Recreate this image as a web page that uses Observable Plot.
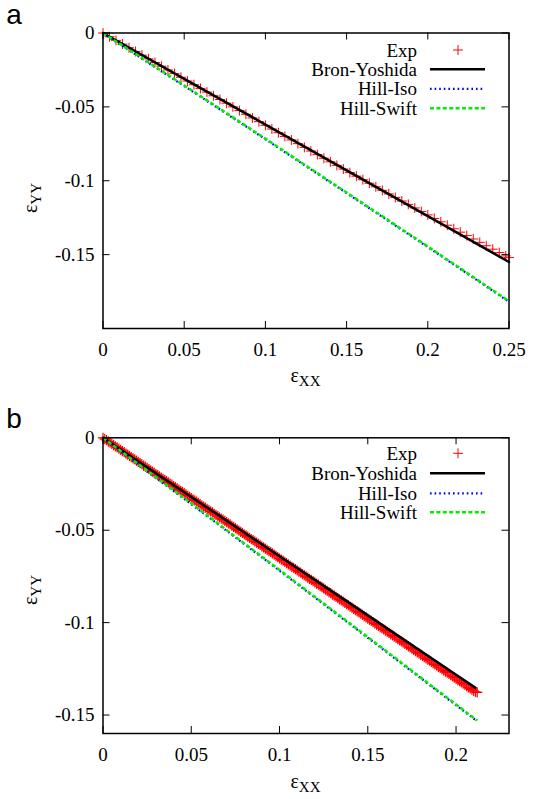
<!DOCTYPE html>
<html><head><meta charset="utf-8">
<script src="https://cdn.jsdelivr.net/npm/d3@7"></script>
<script src="https://cdn.jsdelivr.net/npm/@observablehq/plot@0.6"></script>
<style>body{margin:0;background:#fff} #chart svg{display:block} #chart svg text{font-family:"Liberation Serif","DejaVu Serif",serif}</style>
</head><body><div id="chart"></div>
<script>
// ---------- Panel a data ----------
const aExpX = [0,0.004,0.008,0.012,0.016,0.020,0.024,0.028,0.032,0.036,0.040,0.044,0.048,0.052,0.056,0.060,0.064,0.068,0.072,0.076,0.080,0.084,0.088,0.092,0.096,0.100,0.104,0.108,0.112,0.116,0.120,0.124,0.128,0.132,0.136,0.140,0.144,0.148,0.152,0.156,0.160,0.164,0.168,0.172,0.176,0.180,0.184,0.188,0.192,0.196,0.200,0.204,0.208,0.212,0.216,0.220,0.224,0.228,0.232,0.236,0.240,0.244,0.248,0.250];
const aExpY = [0,-0.0025,-0.0050,-0.0075,-0.0100,-0.0125,-0.0150,-0.0175,-0.0200,-0.0225,-0.0250,-0.0275,-0.0300,-0.0325,-0.0350,-0.0375,-0.0400,-0.0425,-0.0450,-0.0475,-0.0500,-0.0525,-0.0550,-0.0575,-0.0600,-0.0625,-0.0650,-0.0675,-0.0700,-0.0724,-0.0749,-0.0774,-0.0799,-0.0823,-0.0848,-0.0872,-0.0896,-0.0921,-0.0945,-0.0969,-0.0993,-0.1017,-0.1041,-0.1065,-0.1089,-0.1113,-0.1137,-0.1160,-0.1184,-0.1208,-0.1231,-0.1255,-0.1278,-0.1301,-0.1325,-0.1348,-0.1371,-0.1394,-0.1417,-0.1440,-0.1463,-0.1486,-0.1509,-0.1520];
const aBronX = [0,0.05,0.1,0.15,0.2,0.25];
const aBronY = [0,-0.031,-0.062,-0.093,-0.124,-0.155];
const aIsoX = [0,0.05,0.1,0.15,0.2,0.25];
const aIsoY = [-0.0003,-0.0359,-0.0719,-0.1084,-0.1449,-0.1819];
const aSwiftX = [0,0.05,0.1,0.15,0.2,0.25];
const aSwiftY = [0,-0.0355,-0.0715,-0.1080,-0.1445,-0.1815];
const aXTicks = [0,0.05,0.1,0.15,0.2,0.25];
const aYTicks = [0,-0.05,-0.1,-0.15,-0.2];
const aYLabels = ["0","-0.05","-0.1","-0.15",""];

// ---------- Panel b data ----------
const bExpX = [0,0.001,0.002,0.003,0.004,0.005,0.006,0.007,0.008,0.009,0.010,0.011,0.012,0.013,0.014,0.015,0.016,0.017,0.018,0.019,0.020,0.021,0.022,0.023,0.024,0.025,0.026,0.027,0.028,0.029,0.030,0.031,0.032,0.033,0.034,0.035,0.036,0.037,0.038,0.039,0.040,0.041,0.042,0.043,0.044,0.045,0.046,0.047,0.048,0.049,0.050,0.051,0.052,0.053,0.054,0.055,0.056,0.057,0.058,0.059,0.060,0.061,0.062,0.063,0.064,0.065,0.066,0.067,0.068,0.069,0.070,0.071,0.072,0.073,0.074,0.075,0.076,0.077,0.078,0.079,0.080,0.081,0.082,0.083,0.084,0.085,0.086,0.087,0.088,0.089,0.090,0.091,0.092,0.093,0.094,0.095,0.096,0.097,0.098,0.099,0.100,0.101,0.102,0.103,0.104,0.105,0.106,0.107,0.108,0.109,0.110,0.111,0.112,0.113,0.114,0.115,0.116,0.117,0.118,0.119,0.120,0.121,0.122,0.123,0.124,0.125,0.126,0.127,0.128,0.129,0.130,0.131,0.132,0.133,0.134,0.135,0.136,0.137,0.138,0.139,0.140,0.141,0.142,0.143,0.144,0.145,0.146,0.147,0.148,0.149,0.150,0.151,0.152,0.153,0.154,0.155,0.156,0.157,0.158,0.159,0.160,0.161,0.162,0.163,0.164,0.165,0.166,0.167,0.168,0.169,0.170,0.171,0.172,0.173,0.174,0.175,0.176,0.177,0.178,0.179,0.180,0.181,0.182,0.183,0.184,0.185,0.186,0.187,0.188,0.189,0.190,0.191,0.192,0.193,0.194,0.195,0.196,0.197,0.198,0.199,0.200,0.201,0.202,0.203,0.204,0.205,0.206,0.207,0.208,0.209,0.210,0.211,0.212];
const bExpY = [0,-0.0007,-0.0013,-0.0020,-0.0026,-0.0033,-0.0039,-0.0046,-0.0052,-0.0059,-0.0065,-0.0072,-0.0078,-0.0085,-0.0091,-0.0098,-0.0104,-0.0111,-0.0117,-0.0124,-0.0130,-0.0137,-0.0143,-0.0150,-0.0156,-0.0163,-0.0170,-0.0176,-0.0183,-0.0189,-0.0196,-0.0202,-0.0209,-0.0215,-0.0222,-0.0228,-0.0235,-0.0241,-0.0248,-0.0254,-0.0261,-0.0267,-0.0274,-0.0280,-0.0287,-0.0293,-0.0300,-0.0306,-0.0313,-0.0319,-0.0326,-0.0333,-0.0339,-0.0346,-0.0352,-0.0359,-0.0365,-0.0372,-0.0378,-0.0385,-0.0391,-0.0398,-0.0404,-0.0411,-0.0417,-0.0424,-0.0430,-0.0437,-0.0443,-0.0450,-0.0456,-0.0463,-0.0469,-0.0476,-0.0482,-0.0489,-0.0496,-0.0502,-0.0509,-0.0515,-0.0522,-0.0528,-0.0535,-0.0541,-0.0548,-0.0554,-0.0561,-0.0567,-0.0574,-0.0580,-0.0587,-0.0593,-0.0600,-0.0606,-0.0613,-0.0619,-0.0626,-0.0632,-0.0639,-0.0645,-0.0652,-0.0659,-0.0665,-0.0672,-0.0678,-0.0685,-0.0691,-0.0698,-0.0704,-0.0711,-0.0717,-0.0724,-0.0730,-0.0737,-0.0743,-0.0750,-0.0756,-0.0763,-0.0769,-0.0776,-0.0782,-0.0789,-0.0795,-0.0802,-0.0808,-0.0815,-0.0822,-0.0828,-0.0835,-0.0841,-0.0848,-0.0854,-0.0861,-0.0867,-0.0874,-0.0880,-0.0887,-0.0893,-0.0900,-0.0906,-0.0913,-0.0919,-0.0926,-0.0932,-0.0939,-0.0945,-0.0952,-0.0958,-0.0965,-0.0971,-0.0978,-0.0985,-0.0991,-0.0998,-0.1004,-0.1011,-0.1017,-0.1024,-0.1030,-0.1037,-0.1043,-0.1050,-0.1056,-0.1063,-0.1069,-0.1076,-0.1082,-0.1089,-0.1095,-0.1102,-0.1108,-0.1115,-0.1121,-0.1128,-0.1134,-0.1141,-0.1148,-0.1154,-0.1161,-0.1167,-0.1174,-0.1180,-0.1187,-0.1193,-0.1200,-0.1206,-0.1213,-0.1219,-0.1226,-0.1232,-0.1239,-0.1245,-0.1252,-0.1258,-0.1265,-0.1271,-0.1278,-0.1284,-0.1291,-0.1297,-0.1304,-0.1311,-0.1317,-0.1324,-0.1330,-0.1337,-0.1343,-0.1350,-0.1356,-0.1363,-0.1369,-0.1375,-0.1378];
const bBronX = [0,0.05,0.1,0.15,0.2,0.211];
const bBronY = [0,-0.0320,-0.0641,-0.0961,-0.1282,-0.1353];
const bIsoX = [0,0.05,0.1,0.15,0.2,0.212];
const bIsoY = [-0.0003,-0.0359,-0.0719,-0.1082,-0.1447,-0.1534];
const bSwiftX = [0,0.05,0.1,0.15,0.2,0.212];
const bSwiftY = [0,-0.0355,-0.0715,-0.1078,-0.1443,-0.1530];
const bXTicks = [0,0.05,0.1,0.15,0.2];
const bYTicks = [0,-0.05,-0.1,-0.15];
const bYLabels = ["0","-0.05","-0.1","-0.15"];

const seriesNames = ["Exp","Bron-Yoshida","Hill-Iso","Hill-Swift"];
const seriesColors = ["#ff0000","#000000","#0000ff","#00ee00"];

const sans = "Liberation Sans";

function pts(xs, ys){ return xs.map((x,i)=>({x, y: ys[i]})); }

function panel(o){
  const W = 538, ml = 102.5, mr = 29.5;
  const innerH = o.height - o.mt - o.mb;
  const innerW = W - ml - mr;
  const svg = Plot.plot({
    width: W, height: o.height,
    marginTop: o.mt, marginBottom: o.mb, marginLeft: ml, marginRight: mr,
    x: {domain: o.xDomain, axis: null},
    y: {domain: o.yDomain, axis: null},
    style: {fontSize: "19px", background: "white", color: "black"},
    marks: [
      Plot.dot(pts(o.expX, o.expY), {x:"x", y:"y", symbol:"plus", r:o.mr, stroke: seriesColors[0], strokeWidth:o.msw}),
      Plot.line(pts(o.bronX, o.bronY), {x:"x", y:"y", stroke: seriesColors[1], strokeWidth:2.5}),
      Plot.line(pts(o.isoX, o.isoY), {x:"x", y:"y", stroke: seriesColors[2], strokeWidth:2.2, strokeDasharray:"1.6,3", strokeLinecap:"butt"}),
      Plot.line(pts(o.swiftX, o.swiftY), {x:"x", y:"y", stroke: seriesColors[3], strokeWidth:2.5, strokeDasharray:"4,2.4", strokeLinecap:"butt"}),
      Plot.tickX(o.xTicks, {x: d=>d, insetTop: innerH-7, stroke:"black", strokeWidth:1}),
      Plot.tickX(o.xTicks, {x: d=>d, insetBottom: innerH-7, stroke:"black", strokeWidth:1}),
      Plot.tickY(o.yTicks, {y: d=>d, insetLeft: innerW-7, stroke:"black", strokeWidth:1}),
      Plot.tickY(o.yTicks, {y: d=>d, insetRight: innerW-7, stroke:"black", strokeWidth:1}),
      Plot.text(o.xTicks, {x: d=>d, frameAnchor:"bottom", dy: 21, text: d=>String(d), lineAnchor:"middle", fontSize: 19}),
      Plot.text(o.yTicks, {y: d=>d, frameAnchor:"left", dx: -8.5, textAnchor:"end", text: (d,i)=>o.yLabels[i], fontSize: 19}),
      Plot.frame({stroke:"black", strokeWidth:1.5})
    ]
  });
  const g = d3.select(svg).append("g");
  g.append("text").attr("x", 14).attr("y", o.letterY).style("font-family", sans).attr("font-size", 28)
    .attr("fill","black").text(o.letter);
  const xl = g.append("text").attr("x", 305.5).attr("y", o.mt + innerH + o.xLabelDy)
    .attr("text-anchor","middle").attr("font-size", 20).attr("fill","black");
  xl.append("tspan").text("ε");
  xl.append("tspan").attr("dy", 4).attr("font-size", 15).text("XX");
  const yl = g.append("text").attr("transform", `translate(37,${o.yLabelY}) rotate(-90)`)
    .attr("text-anchor","middle").attr("font-size", 20).attr("fill","black");
  yl.append("tspan").text("ε");
  yl.append("tspan").attr("dy", 4).attr("font-size", 15).text("YY");
  o.legendY.forEach((ly, i) => {
    g.append("text").attr("x", 417).attr("y", ly).attr("dy","0.35em").attr("text-anchor","end")
      .attr("font-size", 19).attr("fill","black").text(seriesNames[i]);
    if (i === 0) {
      g.append("path").attr("transform", `translate(458,${ly})`)
        .attr("d", d3.symbol(d3.symbolPlus, Math.PI*3.3*3.3)()).attr("fill","none")
        .attr("stroke", seriesColors[0]).attr("stroke-width", 1);
    } else {
      const dash = i === 2 ? "1.6,3" : i === 3 ? "4,2.4" : null;
      const ln = g.append("line").attr("x1", 430).attr("x2", 485).attr("y1", ly).attr("y2", ly)
        .attr("stroke", seriesColors[i]).attr("stroke-width", i === 2 ? 2.2 : 2.5);
      if (dash) ln.attr("stroke-dasharray", dash);
    }
  });
  return svg;
}

const root = document.getElementById("chart");
root.appendChild(panel({
  letter:"a", letterY: 24, height: 400, mt: 32.5, mb: 72, mr: 3.3, msw: 1,
  xDomain:[0,0.25], yDomain:[-0.2,0], xTicks:aXTicks, yTicks:aYTicks, yLabels:aYLabels,
  expX:aExpX, expY:aExpY, bronX:aBronX, bronY:aBronY, isoX:aIsoX, isoY:aIsoY, swiftX:aSwiftX, swiftY:aSwiftY,
  xLabelDy: 54, yLabelY: 198, legendY:[50,69.3,88.8,108.3]
}));
root.appendChild(panel({
  letter:"b", letterY: 28, height: 399, mt: 37.3, mb: 66, mr: 3.4, msw: 1.2,
  xDomain:[0,0.23], yDomain:[-0.16,0], xTicks:bXTicks, yTicks:bYTicks, yLabels:bYLabels,
  expX:bExpX, expY:bExpY, bronX:bBronX, bronY:bBronY, isoX:bIsoX, isoY:bIsoY, swiftX:bSwiftX, swiftY:bSwiftY,
  xLabelDy: 55, yLabelY: 190, legendY:[53.3,73.3,93.3,112.3]
}));
</script>
</body></html>
